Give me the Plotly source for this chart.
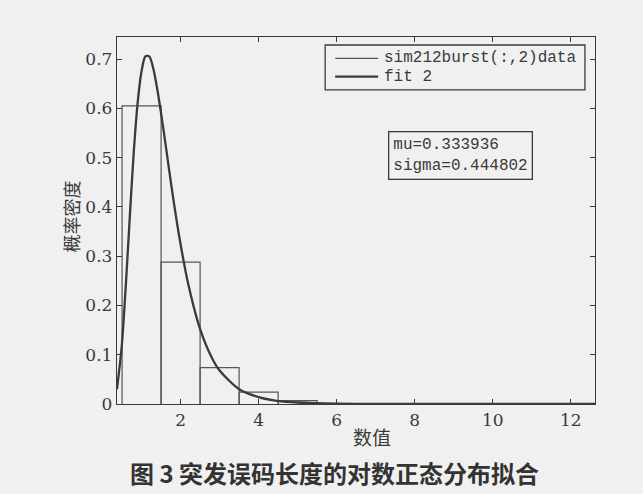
import plotly.graph_objects as go

# Histogram (bin centres, density heights)
bin_centers = [1, 2, 3, 4, 5]
bin_heights = [0.605, 0.288, 0.074, 0.024, 0.007]
bin_width = 1.0

# Fitted lognormal curve
fit_x = [0.37, 0.45, 0.5, 0.6, 0.7, 0.8, 0.9, 1.0, 1.1, 1.2, 1.3, 1.4, 1.5, 1.6, 1.8,
         2.0, 2.2, 2.5, 2.8, 3.0, 3.5, 4.0, 4.5, 5.0, 6.0, 7.0, 8.0, 10.0, 12.62]
fit_y = [0.03, 0.085, 0.125, 0.246, 0.383, 0.512, 0.612, 0.676, 0.706, 0.705, 0.681,
         0.640, 0.590, 0.535, 0.423, 0.324, 0.242, 0.152, 0.094, 0.068, 0.030, 0.014,
         0.006, 0.003, 0.0007, 0.0002, 0.0, 0.0, 0.0]

y_ticks = [0, 0.1, 0.2, 0.3, 0.4, 0.5, 0.6, 0.7]
y_tick_text = ["0", "0.1", "0.2", "0.3", "0.4", "0.5", "0.6", "0.7"]
x_ticks = [2, 4, 6, 8, 10, 12]
x_tick_text = ["2", "4", "6", "8", "10", "12"]

series_names = ["sim212burst(:,2)data", "fit 2"]
mu_text = "mu=0.333936"
sigma_text = "sigma=0.444802"

# Build rectangle outlines for histogram bars from the data
hx, hy = [], []
for c, h in zip(bin_centers, bin_heights):
    l, r = c - bin_width / 2, c + bin_width / 2
    hx += [l, l, r, r, None]
    hy += [0, h, h, 0, None]

ink = "#3a3a3a"
bg = "#f0f0f0"
hist_color = "#555555"
hist_w = 1.2
fit_w = 2.3

fig = go.Figure()
fig.add_trace(go.Scatter(x=hx, y=hy, mode="lines", name=series_names[0], showlegend=False,
                         line=dict(color=hist_color, width=hist_w)))
fig.add_trace(go.Scatter(x=fit_x, y=fit_y, mode="lines", name=series_names[1], showlegend=False,
                         line=dict(color=ink, width=fit_w, shape="spline", smoothing=0.8)))

axis_common = dict(showline=True, mirror="ticks", linecolor=ink, linewidth=1.4,
                   ticks="inside", ticklen=5, tickcolor=ink, tickwidth=1,
                   showgrid=False, zeroline=False,
                   tickfont=dict(family="DejaVu Serif", size=17, color=ink))

fig.update_xaxes(range=[0.37, 12.62], tickvals=x_ticks, ticktext=x_tick_text, **axis_common)
fig.update_yaxes(range=[0, 0.745], tickvals=y_ticks, ticktext=y_tick_text, **axis_common)

# Manual legend (box, line samples, labels)
leg_x0, leg_x1, leg_y0, leg_y1 = 0.4355, 0.979, 0.8557, 0.9782
row_y = [0.942, 0.892]
samp_x0, samp_x1, text_x = 0.4564, 0.5463, 0.5547
shapes = [dict(type="rect", xref="paper", yref="paper", x0=leg_x0, x1=leg_x1,
               y0=leg_y0, y1=leg_y1, line=dict(color=ink, width=1.3), fillcolor=bg)]
shapes.append(dict(type="line", xref="paper", yref="paper", x0=samp_x0, x1=samp_x1,
                   y0=row_y[0], y1=row_y[0], line=dict(color=hist_color, width=hist_w)))
shapes.append(dict(type="line", xref="paper", yref="paper", x0=samp_x0, x1=samp_x1,
                   y0=row_y[1], y1=row_y[1], line=dict(color=ink, width=fit_w)))

mono = dict(family="Liberation Mono", size=16, color=ink)
annotations = [
    dict(x=text_x, y=row_y[0], xref="paper", yref="paper", showarrow=False,
         xanchor="left", yanchor="middle", text=series_names[0], font=mono),
    dict(x=text_x, y=row_y[1], xref="paper", yref="paper", showarrow=False,
         xanchor="left", yanchor="middle", text=series_names[1], font=mono),
    dict(x=0.719, y=0.676, xref="paper", yref="paper", showarrow=False,
         xanchor="center", yanchor="middle",
         text=mu_text + "<br>" + sigma_text, align="left", font=mono,
         bordercolor=ink, borderwidth=1.3, borderpad=4, bgcolor=bg),
    dict(x=0.534, y=-0.089, xref="paper", yref="paper", showarrow=False,
         xanchor="center", yanchor="middle",
         text="数值", font=dict(family="Noto Sans CJK SC", size=19, color=ink)),
    dict(x=-0.097, y=0.51, xref="paper", yref="paper", showarrow=False,
         xanchor="center", yanchor="middle", text="概率密度", textangle=-90,
         font=dict(family="Noto Sans CJK SC", size=18, color=ink)),
    dict(x=0.456, y=-0.187, xref="paper", yref="paper", showarrow=False,
         xanchor="center", yanchor="middle",
         text="<b>图 3 突发误码长度的对数正态分布拟合</b>",
         font=dict(family="Noto Sans CJK SC", size=24, color="#333333")),
]

fig.update_layout(
    width=643, height=494,
    margin=dict(l=117, r=48, t=37, b=90),
    paper_bgcolor=bg, plot_bgcolor=bg,
    showlegend=False,
    shapes=shapes,
    annotations=annotations,
)

fig.write_html("out.html", config={"displayModeBar": False},
               post_script="document.body.style.margin='0';document.body.style.background='%s';" % bg)
